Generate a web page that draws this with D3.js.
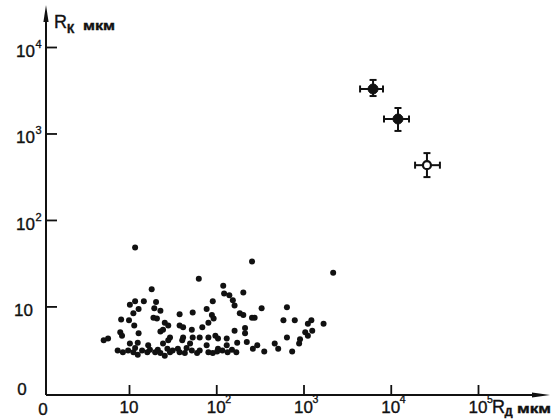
<!DOCTYPE html>
<html>
<head>
<meta charset="utf-8">
<script src="https://cdn.jsdelivr.net/npm/d3@7"></script>
<style>
  body { margin: 0; background: #fff; }
  svg { display: block; }
  text { font-family: "Liberation Sans", Arial, sans-serif; fill: #111; stroke: #111; stroke-width: 0.35; }
</style>
</head>
<body>
<svg width="552" height="420"></svg>
<script>
const xTicks = [10, 100, 1000, 10000, 100000];
const yTicks = [10, 100, 1000, 10000];

// small dots, read as lg R_D and lg R_K (мкм) off the log axes
const lgRD = [
  1.07, 2.41, 3.34, 1.80, 2.08, 1.26, 2.31, 2.09, 2.15, 2.19,
  2.21, 1.96, 1.01, 1.07, 1.17, 1.31, 1.29, 1.05, 1.11, 1.36,
  1.28, 1.32, 0.91, 1.00, 1.06, 1.41, 1.45, 0.90, 0.92, 1.11,
  1.36, 1.39, 0.76, 0.71, 1.47, 1.01, 0.99, 1.07, 1.10, 1.15,
  1.21, 1.22, 1.30, 1.33, 1.39, 1.44, 1.47, 1.45, 2.27, 2.31,
  1.58, 1.73, 1.89, 1.95, 1.97, 2.41, 1.91, 1.58, 1.62, 1.72,
  1.84, 2.21, 2.33, 2.33, 1.62, 1.61, 1.73, 1.81, 1.91, 1.99,
  2.02, 2.12, 2.24, 2.35, 1.70, 1.66, 1.56, 1.58, 1.89, 1.91,
  2.02, 2.07, 2.12, 2.13, 1.78, 2.42, 2.52, 2.81, 2.44, 2.77,
  2.90, 3.05, 3.09, 3.23, 3.02, 3.10, 3.05, 2.81, 2.96, 2.95,
  2.47, 2.67, 2.71, 2.55, 2.87,
  0.87, 0.93, 1.05, 1.10, 1.24, 1.36, 1.41, 1.50, 1.64, 1.72, 1.81, 1.96, 2.01, 2.18, 2.23
];
const lgRK = [
  1.68, 1.52, 1.39, 1.32, 1.24, 1.20, 1.16, 1.15, 1.13, 1.07,
  1.01, 1.06, 1.02, 1.06, 1.06, 1.05, 0.98, 0.92, 0.97, 0.95,
  0.87, 0.86, 0.85, 0.84, 0.78, 0.81, 0.78, 0.70, 0.66, 0.69,
  0.71, 0.73, 0.63, 0.61, 0.64, 0.57, 0.49, 0.52, 0.58, 0.49,
  0.47, 0.55, 0.47, 0.50, 0.57, 0.51, 0.47, 0.61, 0.92, 0.90,
  0.91, 0.93, 0.97, 0.90, 0.86, 0.87, 0.81, 0.78, 0.76, 0.73,
  0.76, 0.72, 0.75, 0.69, 0.64, 0.61, 0.64, 0.64, 0.64, 0.66,
  0.63, 0.63, 0.58, 0.59, 0.57, 0.52, 0.51, 0.47, 0.55, 0.47,
  0.51, 0.49, 0.55, 0.47, 0.46, 0.51, 0.98, 0.99, 0.87, 0.84,
  0.84, 0.80, 0.84, 0.80, 0.70, 0.72, 0.66, 0.64, 0.62, 0.57,
  0.55, 0.57, 0.51, 0.48, 0.48,
  0.49, 0.47, 0.47, 0.44, 0.50, 0.46, 0.43, 0.49, 0.46, 0.49, 0.49, 0.46, 0.48, 0.50, 0.47
];

// the three large points with error bars
const bigRD   = [6270, 12100, 26000];
const bigRDlo = [4450, 8370, 19000];
const bigRDhi = [8150, 16200, 36600];
const bigRK   = [3270, 1470, 430];
const bigRKlo = [2710, 1070, 313];
const bigRKhi = [4160, 1970, 593];
const bigFilled = [true, true, false];

const ink = '#111';
const X0 = 46, Y0 = 395;

const svg = d3.select('svg');

const x = d3.scaleLog().domain([1, 1e5]).range([41.75, 478]);
const y = d3.scaleLog().domain([1, 1e4]).range([392.9, 47]);

// axis lines with arrows
svg.append('line')
  .attr('x1', X0).attr('y1', Y0).attr('x2', X0).attr('y2', 14)
  .attr('stroke', ink).attr('stroke-width', 2);
svg.append('path')
  .attr('d', `M${X0},5 L${X0 + 2.6},22 L${X0 - 2.6},22 Z`)
  .attr('fill', ink);
svg.append('line')
  .attr('x1', X0).attr('y1', Y0).attr('x2', 538).attr('y2', Y0)
  .attr('stroke', ink).attr('stroke-width', 2);
svg.append('path')
  .attr('d', `M550,${Y0} L532,${Y0 - 2.6} L532,${Y0 + 2.6} Z`)
  .attr('fill', ink);

// ticks
const gx = svg.append('g')
  .attr('transform', `translate(0,${Y0})`)
  .call(d3.axisBottom(x).tickValues(xTicks).tickSize(-10).tickFormat(''));
gx.select('.domain').remove();
gx.selectAll('.tick line').attr('stroke', ink).attr('stroke-width', 1.8);

const gy = svg.append('g')
  .attr('transform', `translate(${X0},0)`)
  .call(d3.axisLeft(y).tickValues(yTicks).tickSize(-11).tickFormat(''));
gy.select('.domain').remove();
gy.selectAll('.tick line').attr('stroke', ink).attr('stroke-width', 1.8);

// tick labels
const exp = v => Math.round(Math.log10(v));

xTicks.forEach(v => {
  const px = x(v);
  svg.append('text')
    .attr('x', px).attr('y', 413)
    .attr('text-anchor', 'middle')
    .attr('font-size', 17)
    .text('10');
  if (exp(v) > 1) {
    svg.append('text')
      .attr('x', px + 9).attr('y', 403)
      .attr('font-size', 10.5)
      .text(exp(v));
  }
});
svg.append('text')
  .attr('x', X0 - 3).attr('y', 415)
  .attr('text-anchor', 'middle')
  .attr('font-size', 17)
  .text('0');

yTicks.forEach(v => {
  const py = y(v);
  const e = exp(v);
  svg.append('text')
    .attr('x', e > 1 ? 35 : 33).attr('y', py + 10)
    .attr('text-anchor', 'end')
    .attr('font-size', 17)
    .text('10');
  if (e > 1) {
    svg.append('text')
      .attr('x', 35.5).attr('y', py + 1)
      .attr('font-size', 11)
      .text(e);
  }
});
svg.append('text')
  .attr('x', 22).attr('y', 395)
  .attr('text-anchor', 'middle')
  .attr('font-size', 17)
  .text('0');

// axis titles
const yTitle = svg.append('g');
yTitle.append('text').attr('x', 54).attr('y', 28).attr('font-size', 18).text('R');
yTitle.append('text').attr('x', 67).attr('y', 33).attr('font-size', 12).attr('font-weight', 'bold').text('К');
yTitle.append('text').attr('x', 83).attr('y', 30).attr('font-size', 12).attr('font-weight', 'bold')
  .attr('textLength', 32).attr('lengthAdjust', 'spacingAndGlyphs').text('мкм');

const xTitle = svg.append('g');
xTitle.append('text').attr('x', 492).attr('y', 413).attr('font-size', 18).text('R');
xTitle.append('text').attr('x', 504.5).attr('y', 416).attr('font-size', 11.5).attr('font-weight', 'bold').text('Д');
xTitle.append('text').attr('x', 517).attr('y', 413).attr('font-size', 12).attr('font-weight', 'bold')
  .attr('textLength', 34).attr('lengthAdjust', 'spacingAndGlyphs').text('мкм');

// small dots
const dots = lgRD.map((v, i) => ({ rd: Math.pow(10, v), rk: Math.pow(10, lgRK[i]) }));
svg.append('g')
  .selectAll('circle')
  .data(dots)
  .enter().append('circle')
  .attr('cx', d => x(d.rd))
  .attr('cy', d => y(d.rk))
  .attr('r', 3)
  .attr('fill', ink);

// big points with error bars
const big = bigRD.map((v, i) => ({
  rd: v, rk: bigRK[i],
  rdLo: bigRDlo[i], rdHi: bigRDhi[i],
  rkLo: bigRKlo[i], rkHi: bigRKhi[i],
  filled: bigFilled[i]
}));
const cap = 3.5;
const gb = svg.append('g').attr('stroke', ink).attr('stroke-width', 2);
big.forEach(d => {
  const cx = x(d.rd), cy = y(d.rk);
  const xl = x(d.rdLo), xr = x(d.rdHi);
  const yt = y(d.rkHi), yb = y(d.rkLo);
  gb.append('line').attr('x1', xl).attr('x2', xr).attr('y1', cy).attr('y2', cy);
  gb.append('line').attr('x1', cx).attr('x2', cx).attr('y1', yt).attr('y2', yb);
  gb.append('line').attr('x1', xl).attr('x2', xl).attr('y1', cy - cap).attr('y2', cy + cap);
  gb.append('line').attr('x1', xr).attr('x2', xr).attr('y1', cy - cap).attr('y2', cy + cap);
  gb.append('line').attr('x1', cx - cap).attr('x2', cx + cap).attr('y1', yt).attr('y2', yt);
  gb.append('line').attr('x1', cx - cap).attr('x2', cx + cap).attr('y1', yb).attr('y2', yb);
  gb.append('circle')
    .attr('cx', cx).attr('cy', cy)
    .attr('r', d.filled ? 5 : 4)
    .attr('fill', d.filled ? ink : '#fff')
    .attr('stroke-width', d.filled ? 1 : 2.2);
});
</script>
</body>
</html>
